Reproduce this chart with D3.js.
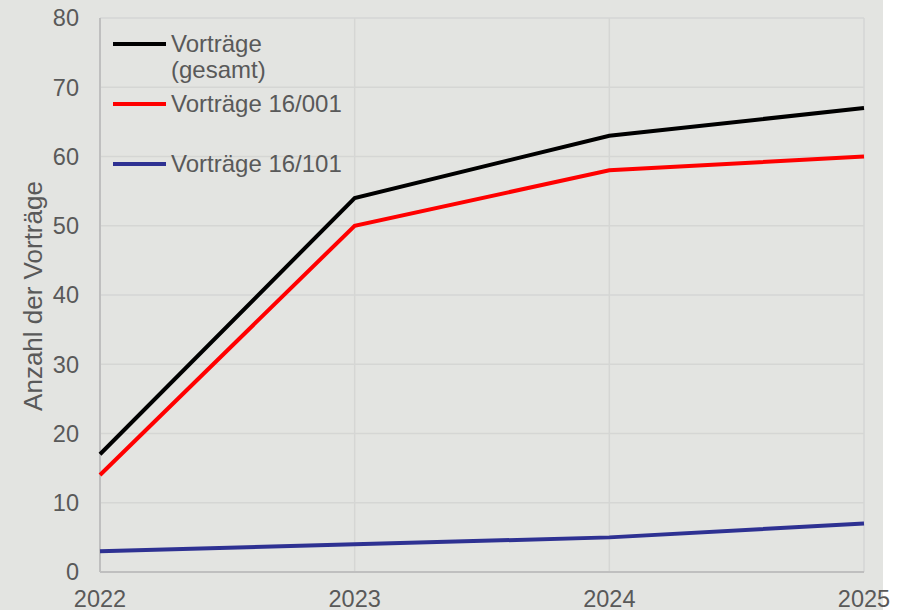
<!DOCTYPE html>
<html>
<head>
    <meta charset="utf-8">
    <style>
        body { margin: 0; background: #fff; }
        svg text { font-family: "Liberation Sans", Arial, sans-serif; fill: #595959; }
        line.grid { stroke: #d5d6d4; stroke-width: 1.5px; }
        line.axis { stroke: #bfbfbf; stroke-width: 2px; }
        path.series { fill: none; stroke-width: 4px; }
    </style>
</head>
<body>
<div id="chart"></div>
<script src="https://cdn.jsdelivr.net/npm/d3@7"></script>
<script>

    var years = [2022, 2023, 2024, 2025];
    var gesamt = [17, 54, 63, 67];
    var v16001 = [14, 50, 58, 60];
    var v16101 = [3, 4, 5, 7];
    var yTicks = [0, 10, 20, 30, 40, 50, 60, 70, 80];

    var seriesNames = [["Vorträge", "(gesamt)"], ["Vorträge 16/001"], ["Vorträge 16/101"]];
    var seriesColors = ["#000000", "#ff0000", "#2e3192"];
    var seriesValues = [gesamt, v16001, v16101];

    var width = 902, height = 610;
    var plotLeft = 100, plotRight = 864, plotTop = 18, plotBottom = 572;

    var svg = d3.select("#chart").append("svg")
        .attr("width", width)
        .attr("height", height);

    svg.append("rect")
        .attr("width", 883)
        .attr("height", height)
        .attr("fill", "#e3e4e1");

    var x = d3.scaleLinear().domain([2022, 2025]).range([plotLeft, plotRight]);
    var y = d3.scaleLinear().domain([0, 80]).range([plotBottom, plotTop]);

    // grid
    svg.append("g").selectAll("line")
        .data(yTicks.slice(1))
        .enter().append("line")
        .attr("class", "grid")
        .attr("x1", plotLeft).attr("x2", plotRight)
        .attr("y1", function (d) { return y(d); })
        .attr("y2", function (d) { return y(d); });

    svg.append("g").selectAll("line")
        .data(years.slice(1))
        .enter().append("line")
        .attr("class", "grid")
        .attr("x1", function (d) { return x(d); })
        .attr("x2", function (d) { return x(d); })
        .attr("y1", plotTop).attr("y2", plotBottom);

    // axes
    svg.append("line").attr("class", "axis")
        .attr("x1", plotLeft).attr("x2", plotLeft).attr("y1", plotTop).attr("y2", plotBottom);
    svg.append("line").attr("class", "axis")
        .attr("x1", plotLeft).attr("x2", plotRight).attr("y1", plotBottom).attr("y2", plotBottom);

    svg.append("g").selectAll("text")
        .data(yTicks)
        .enter().append("text")
        .attr("x", 79)
        .attr("y", function (d) { return y(d); })
        .attr("dy", "0.36em")
        .attr("text-anchor", "end")
        .style("font-size", "23.5px")
        .text(function (d) { return d; });

    svg.append("g").selectAll("text")
        .data(years)
        .enter().append("text")
        .attr("x", function (d) { return x(d); })
        .attr("y", 607)
        .attr("text-anchor", "middle")
        .style("font-size", "23.5px")
        .text(function (d) { return d; });

    svg.append("text")
        .attr("transform", "translate(42,296) rotate(-90)")
        .attr("text-anchor", "middle")
        .style("font-size", "26px")
        .text("Anzahl der Vorträge");

    // lines
    var line = d3.line()
        .x(function (d, i) { return x(years[i]); })
        .y(function (d) { return y(d); });

    svg.append("g").selectAll("path")
        .data(seriesValues)
        .enter().append("path")
        .attr("class", "series")
        .attr("stroke", function (d, i) { return seriesColors[i]; })
        .attr("d", line);

    // legend
    var legendY = [44, 104, 164];
    var legend = svg.append("g").selectAll("g")
        .data(seriesNames)
        .enter().append("g")
        .attr("transform", function (d, i) { return "translate(113," + legendY[i] + ")"; });

    legend.append("line")
        .attr("x1", 0).attr("x2", 53)
        .attr("stroke", function (d, i) { return seriesColors[i]; })
        .attr("stroke-width", 4);

    legend.append("text")
        .attr("y", 8)
        .style("font-size", "24px")
        .selectAll("tspan")
        .data(function (d) { return d; })
        .enter().append("tspan")
        .attr("x", 58)
        .attr("dy", function (d, i) { return i === 0 ? 0 : 26; })
        .text(function (d) { return d; });

</script>
</body>
</html>
